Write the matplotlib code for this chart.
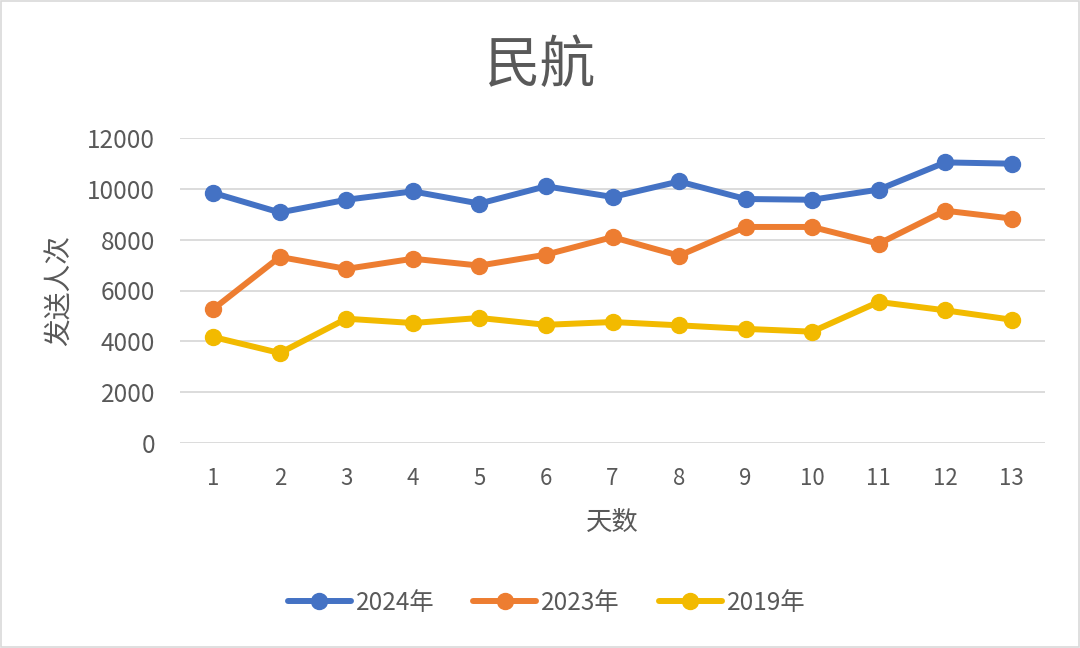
import matplotlib.pyplot as plt
from matplotlib.patches import Rectangle

plt.rcParams['font.family'] = ['Noto Sans CJK SC', 'DejaVu Sans']

# data
days = list(range(1, 14))
y2024 = [9840, 9070, 9570, 9900, 9420, 10100, 9680, 10290, 9600, 9570, 9970, 11040, 10990]
y2023 = [5270, 7320, 6850, 7250, 6980, 7410, 8100, 7370, 8500, 8500, 7840, 9140, 8830]
y2019 = [4170, 3540, 4890, 4720, 4920, 4650, 4760, 4630, 4490, 4380, 5550, 5220, 4850]

series = [y2024, y2023, y2019]
labels = ['2024年', '2023年', '2019年']
colors = ['#4472C4', '#ED7D31', '#F2BA00']
yticks = [0, 2000, 4000, 6000, 8000, 10000, 12000]

text_color = '#595959'

fig = plt.figure(figsize=(10.8, 6.48), dpi=100)
ax = fig.add_axes([180/1080, 1 - 443/648, 865/1080, 305/648])

for vals, lab, col in zip(series, labels, colors):
    ax.plot(days, vals, '-o', color=col, linewidth=4.3, markersize=11.5,
            label=lab, solid_capstyle='round', zorder=3)

ax.set_xlim(0.5, 13.5)
ax.set_ylim(0, 12000)
ax.set_yticks(yticks)
ax.set_xticks(days)
ax.grid(axis='y', color='#D9D9D9', linewidth=1.3)
ax.set_axisbelow(True)
for s in ax.spines.values():
    s.set_visible(False)
ax.tick_params(axis='both', length=0, labelcolor=text_color)
ax.tick_params(axis='y', pad=18, labelsize=17.5)
ax.tick_params(axis='x', pad=17, labelsize=16)

ax.set_ylabel('发送人次', fontsize=20, color=text_color, labelpad=9)
ax.set_xlabel('天数', fontsize=19, color=text_color, labelpad=14)

fig.text(0.5, 1 - 66/648, '民航', ha='center', va='center', fontsize=40,
         color=text_color)

leg = fig.legend(loc='center', bbox_to_anchor=(0.506, 1 - 603/648), ncol=3,
                 frameon=False, fontsize=17.5, handlelength=2.6,
                 columnspacing=1.6, handletextpad=0.2)
for t in leg.get_texts():
    t.set_color(text_color)

fig.patches.append(Rectangle((0.001, 0.0015), 0.998, 0.997, transform=fig.transFigure,
                             fill=False, edgecolor='#D9D9D9', linewidth=1.2))

fig.savefig('out.png', dpi=100)
